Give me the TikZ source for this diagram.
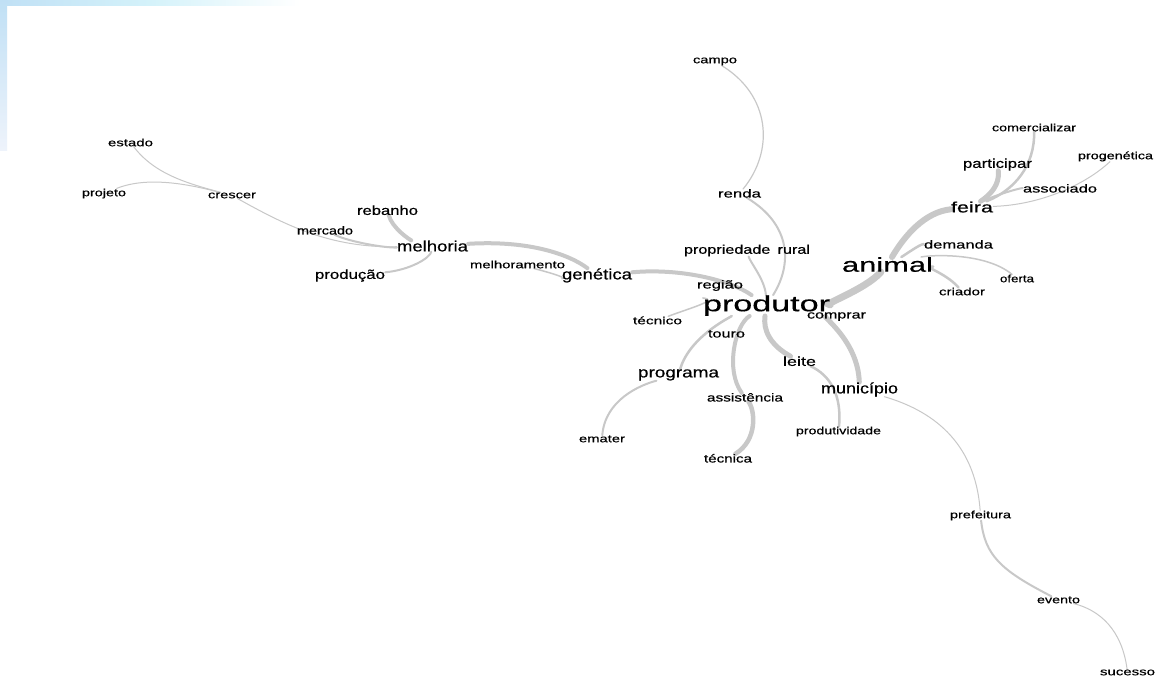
\documentclass[tikz,border=0pt]{standalone}
\usepackage{fontspec}
\setmainfont{Liberation Sans}[FakeBold=0.4]
\usepackage{graphicx}
\pgfdeclarelayer{bg}
\pgfdeclarelayer{edges}
\pgfsetlayers{bg,edges,main}
\definecolor{edgegray}{RGB}{200,200,200}
\definecolor{skyA}{RGB}{192,224,245}
\definecolor{skyB}{RGB}{212,242,250}
\definecolor{skyC}{RGB}{238,243,251}
\newcommand\wlabel[2]{\resizebox{#1pt}{\height}{#2}}
\begin{document}
\begin{tikzpicture}[x=1pt,y=-1pt,
  word/.style={inner sep=0pt, anchor=base, yshift={-0.26*#1-1.5}, text=black, font=\fontsize{#1}{#1}\selectfont},
  edge/.style={draw=edgegray, line width=#1, line cap=round}]
\useasboundingbox (0,0) rectangle (1158,677);
\begin{pgfonlayer}{bg}
  \fill[white] (0,0) rectangle (1158,677);
  \shade[left color=skyA, right color=white, middle color=skyB] (0,0) rectangle (300,6);
  \shade[top color=skyA, bottom color=skyC] (0,0) rectangle (7,150);
\end{pgfonlayer}

% words
\node[word=22]   (produtor) at (766.5,304) {\wlabel{127}{produtor}};
\node[word=20]   (animal) at (887.5,265) {\wlabel{91}{animal}};
\node[word=15]   (feira) at (972,207) {\wlabel{42}{feira}};
\node[word=13]   (participar) at (997.5,163) {\wlabel{69}{participar}};
\node[word=10.5] (comercializar) at (1034,127) {\wlabel{84}{comercializar}};
\node[word=10.5] (progenetica) at (1115.5,155) {\wlabel{75}{progenética}};
\node[word=11.5] (associado) at (1060,188) {\wlabel{74}{associado}};
\node[word=11.5] (demanda) at (958.5,244) {\wlabel{69}{demanda}};
\node[word=10.5] (oferta) at (1017,278) {\wlabel{34}{oferta}};
\node[word=10.5] (criador) at (962,291) {\wlabel{46}{criador}};
\node[word=10.5] (campo) at (715,59) {\wlabel{44}{campo}};
\node[word=11.5] (renda) at (739.5,193) {\wlabel{43}{renda}};
\node[word=12.5] (propriedade) at (747,249) {\wlabel{126}{propriedade\hspace{0.45em}rural}};
\node[word=11.5] (regiao) at (720,284) {\wlabel{46}{região}};
\node[word=10.5] (tecnico) at (657.5,320) {\wlabel{49}{técnico}};
\node[word=11.5] (comprar) at (836.5,314) {\wlabel{59}{comprar}};
\node[word=11.5] (touro) at (726.5,333) {\wlabel{37}{touro}};
\node[word=13]   (leite) at (799.5,361) {\wlabel{33}{leite}};
\node[word=15]   (programa) at (678.5,372) {\wlabel{81}{programa}};
\node[word=15]   (municipio) at (859.5,388) {\wlabel{77}{município}};
\node[word=11.5] (assistencia) at (745,397) {\wlabel{76}{assistência}};
\node[word=10.5] (produtividade) at (838.5,430) {\wlabel{85}{produtividade}};
\node[word=10.5] (emater) at (602,438) {\wlabel{46}{emater}};
\node[word=11.5] (tecnica) at (728,458) {\wlabel{48}{técnica}};
\node[word=10.5] (prefeitura) at (980.5,514) {\wlabel{61}{prefeitura}};
\node[word=10.5] (evento) at (1058.5,599) {\wlabel{43}{evento}};
\node[word=10.5] (sucesso) at (1127.5,671) {\wlabel{55}{sucesso}};
\node[word=15]   (genetica) at (597,274) {\wlabel{70}{genética}};
\node[word=10.5] (melhoramento) at (517.5,264) {\wlabel{95}{melhoramento}};
\node[word=15]   (melhoria) at (432.5,246) {\wlabel{71}{melhoria}};
\node[word=13]   (rebanho) at (387.5,210) {\wlabel{61}{rebanho}};
\node[word=11.5] (mercado) at (325,230) {\wlabel{56}{mercado}};
\node[word=13]   (producao) at (350,274) {\wlabel{70}{produção}};
\node[word=10.5] (crescer) at (232,194) {\wlabel{48}{crescer}};
\node[word=10.5] (estado) at (130.5,142) {\wlabel{45}{estado}};
\node[word=10.5] (projeto) at (104,192) {\wlabel{44}{projeto}};

% connectors
\begin{pgfonlayer}{edges}
  \draw[edge=7]   (produtor) .. controls (820,305) and (865,290) .. (animal);
  \draw[edge=6]   (animal) .. controls (905,235) and (925,212) .. (feira);
  \draw[edge=5]   (feira) .. controls (990,195) and (1000,185) .. (participar);
  \draw[edge=2.5] (feira) .. controls (1015,190) and (1035,165) .. (comercializar);
  \draw[edge=2]   (feira) .. controls (995,195) and (1020,188) .. (associado);
  \draw[edge=1]   (feira) .. controls (1040,205) and (1085,185) .. (progenetica);
  \draw[edge=2.5] (animal) .. controls (905,255) and (920,244) .. (demanda);
  \draw[edge=1.5] (animal) .. controls (930,255) and (985,252) .. (oferta);
  \draw[edge=2.5] (animal) .. controls (920,266) and (945,272) .. (criador);
  \draw[edge=4]   (produtor) .. controls (730,280) and (680,268) .. (genetica);
  \draw[edge=4]   (genetica) .. controls (570,255) and (530,240) .. (melhoria);
  \draw[edge=1.5] (genetica) .. controls (570,278) and (540,270) .. (melhoramento);
  \draw[edge=4]   (melhoria) .. controls (410,240) and (392,228) .. (rebanho);
  \draw[edge=2]   (melhoria) .. controls (385,248) and (350,242) .. (mercado);
  \draw[edge=2]   (melhoria) .. controls (430,258) and (410,270) .. (producao);
  \draw[edge=1]   (melhoria) .. controls (330,248) and (285,225) .. (crescer);
  \draw[edge=1]   (crescer) .. controls (190,184) and (155,175) .. (estado);
  \draw[edge=1]   (crescer) .. controls (195,186) and (150,175) .. (projeto);
  \draw[edge=2]   (produtor) .. controls (792,265) and (792,225) .. (renda);
  \draw[edge=1.2] (renda) .. controls (775,150) and (770,95) .. (campo);
  \draw[edge=2]   (produtor) .. controls (765,280) and (750,262) .. (propriedade);
  \draw[edge=1.5] (produtor) .. controls (720,300) and (690,308) .. (tecnico);
  \draw[edge=2.5] (produtor) .. controls (735,315) and (690,335) .. (programa);
  \draw[edge=2]   (programa) .. controls (640,385) and (605,400) .. (emater);
  \draw[edge=4]   (produtor) .. controls (735,325) and (725,370) .. (assistencia);
  \draw[edge=4.5] (assistencia) .. controls (755,410) and (758,440) .. (tecnica);
  \draw[edge=5]   (produtor) .. controls (763,330) and (770,345) .. (leite);
  \draw[edge=2.5] (leite) .. controls (830,375) and (842,395) .. (produtividade);
  \draw[edge=5]   (produtor) .. controls (820,315) and (858,340) .. (municipio);
  \draw[edge=1]   (municipio) .. controls (930,410) and (975,440) .. (prefeitura);
  \draw[edge=2]   (prefeitura) .. controls (985,555) and (1000,570) .. (evento);
  \draw[edge=1]   (evento) .. controls (1100,610) and (1122,630) .. (sucesso);
\end{pgfonlayer}
\end{tikzpicture}
\end{document}
